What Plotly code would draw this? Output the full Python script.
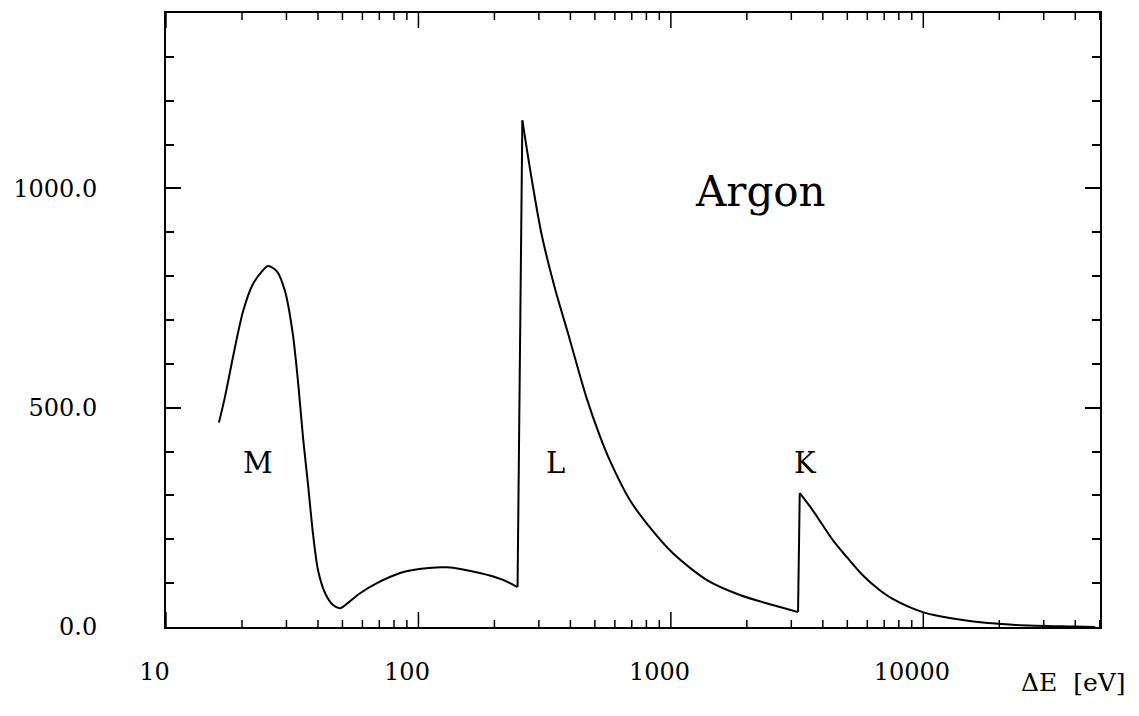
import math
import plotly.graph_objects as go

# Energy loss (eV) and values
energy_ev = [16.2, 17.1, 18.4, 20.2, 22.1, 24.0, 25.4, 27.5, 29.6, 31.8, 33.4, 34.9,
             36.5, 38.2, 40.0, 42.7, 45.9, 48.9, 52.6, 58.7, 68.5, 84.6, 95.1, 129.7,
             175, 215, 247, 258, 280.7, 307.6, 347, 392, 463, 523, 573, 689, 826, 1019,
             1390, 1877, 2535, 3190, 3240, 3648, 4382, 5000, 5757, 6650, 7563, 9950, 14330,
             22600, 39100, 48000]
values = [466, 523, 614, 720, 782, 811, 823, 811, 766, 668, 555, 432,
          327, 214, 130, 77, 50, 43, 55, 77, 100, 123, 130, 136,
          123, 108, 91, 1155, 1023, 895, 773, 668, 523, 436, 380, 289, 227, 168,
          107, 73, 50, 34, 305, 266, 198, 158, 118, 86, 64, 34, 16,
          5, 1, 0]

# indices where the absorption edges (vertical rises) are
L_edge = 26
K_edge = 41

x_tick_vals = [10, 100, 1000, 10000]
x_tick_text = ["10", "100", "1000", "10000"]
x_minor_vals = [m * 10 ** e for e in range(1, 5) for m in range(2, 10) if m * 10 ** e <= 50000]
y_tick_vals = [0, 500, 1000]
y_tick_text = ["0.0", "500.0", "1000.0"]

shell_labels = ["M", "L", "K"]
shell_energy = [23.1, 348, 3400]
shell_y = [373, 373, 373]

title_text = "Argon"
title_energy = 2270
title_y = 993

FONT = "DejaVu Serif"
X_RANGE = [1, 4.7]  # log10(eV)
Y_RANGE = [0, 1400]
PLOT_H = 716 - 11 - 89

fig = go.Figure()
segments = [(0, L_edge, "spline"), (L_edge, L_edge + 1, "linear"),
            (L_edge + 1, K_edge, "spline"), (K_edge, K_edge + 1, "linear"),
            (K_edge + 1, len(energy_ev) - 1, "spline")]
for a, b, shape in segments:
    fig.add_trace(go.Scatter(x=energy_ev[a:b + 1], y=values[a:b + 1], mode="lines",
                             line=dict(color="black", width=2, shape=shape, smoothing=0.8),
                             showlegend=False, hoverinfo="skip"))

# x-axis tick marks (bottom and top, pointing inward), drawn on the axis scale
for vals, length_px in [(x_tick_vals, 15), (x_minor_vals, 7)]:
    dy = length_px / PLOT_H * (Y_RANGE[1] - Y_RANGE[0])
    tx, ty = [], []
    for v in vals:
        tx += [v, v, None, v, v, None]
        ty += [Y_RANGE[0], Y_RANGE[0] + dy, None, Y_RANGE[1], Y_RANGE[1] - dy, None]
    fig.add_trace(go.Scatter(x=tx, y=ty, mode="lines", line=dict(color="black", width=1.5),
                             showlegend=False, hoverinfo="skip", connectgaps=False))

for t, xv, yv in zip(shell_labels, shell_energy, shell_y):
    fig.add_annotation(x=math.log10(xv), y=yv, xref="x", yref="y", text=t, showarrow=False,
                       font=dict(family=FONT, size=29, color="black"))

fig.add_annotation(x=math.log10(title_energy), y=title_y, xref="x", yref="y",
                   text=title_text, showarrow=False,
                   font=dict(family=FONT, size=42, color="black"))

fig.add_annotation(x=1.03, y=-0.091, xref="paper", yref="paper", xanchor="right",
                   yanchor="middle", text="ΔE&nbsp;&nbsp;[eV]", showarrow=False,
                   font=dict(family=FONT, size=25, color="black"))

fig.update_layout(xaxis=dict(type="log", range=X_RANGE, showline=True, linecolor="black",
                             linewidth=2, mirror=True, ticks="outside", ticklen=22,
                             tickcolor="rgba(0,0,0,0)", tickvals=x_tick_vals,
                             ticktext=[t + "&nbsp;&nbsp;&nbsp;" for t in x_tick_text],
                             showgrid=False, zeroline=False,
                             tickfont=dict(family=FONT, size=24, color="black")))
fig.update_yaxes(range=Y_RANGE, showline=True, linecolor="black", linewidth=2,
                 mirror="allticks", ticks="inside", ticklen=15, tickwidth=1.5,
                 tickcolor="black", tickvals=y_tick_vals, ticktext=y_tick_text,
                 showgrid=False, zeroline=False,
                 tickfont=dict(family=FONT, size=24, color="black"),
                 ticklabelstandoff=62,
                 minor=dict(ticks="inside", ticklen=8, tickwidth=1.5,
                            tickcolor="black", dtick=100, showgrid=False))

fig.update_layout(width=1139, height=716, margin=dict(l=166, r=39, t=11, b=89),
                  paper_bgcolor="white", plot_bgcolor="white",
                  font=dict(family=FONT, color="black"))

fig.write_html("out.html")
